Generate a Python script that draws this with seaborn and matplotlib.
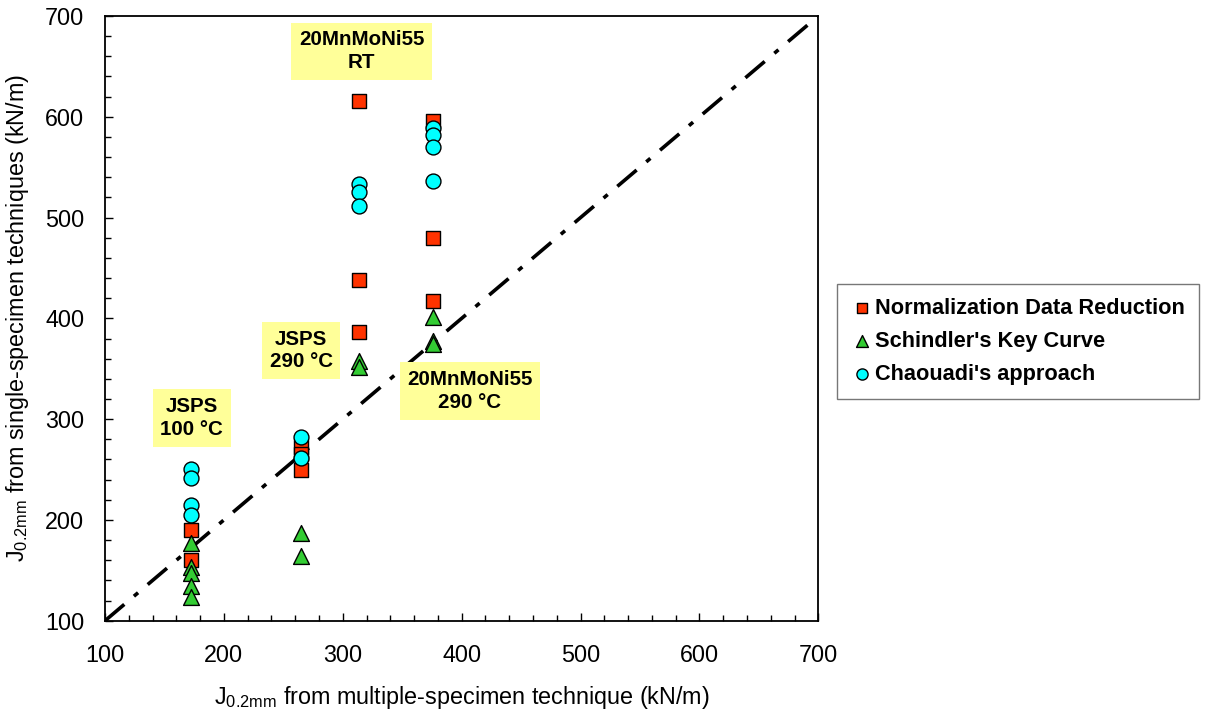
import numpy as np
import pandas as pd
import matplotlib
matplotlib.use("Agg")
import matplotlib.pyplot as plt
from matplotlib.ticker import MultipleLocator
import seaborn as sns

# J0.2mm from the multiple-specimen technique (x) for each material/temperature group
x_jsps100 = 172
x_jsps290 = 265
x_rt = 314
x_mn290 = 376

# J0.2mm from single-specimen techniques (kN/m)
ndr_jsps100 = [190, 160]
ndr_jsps290 = [272, 265, 250]
ndr_rt = [616, 438, 386]
ndr_mn290 = [596, 480, 417]

skc_jsps100 = [177, 153, 147, 134, 124]
skc_jsps290 = [187, 164]
skc_rt = [358, 352]
skc_mn290 = [401, 378, 375]

cha_jsps100 = [251, 242, 215, 205]
cha_jsps290 = [282, 261]
cha_rt = [533, 525, 511]
cha_mn290 = [589, 582, 570, 536]

series_names = ["Normalization Data Reduction", "Schindler's Key Curve", "Chaouadi's approach"]

group_labels = ["JSPS\n100 °C", "JSPS\n290 °C", "20MnMoNi55\nRT", "20MnMoNi55\n290 °C"]
label_pos = [(173, 301), (265, 368), (316, 665), (407, 328)]


def build(xs, ys_lists, name):
    rows = []
    for xv, ys in zip(xs, ys_lists):
        for yv in ys:
            rows.append({"x": xv, "y": yv, "series": name})
    return pd.DataFrame(rows)


xs = [x_jsps100, x_jsps290, x_rt, x_mn290]
df_ndr = build(xs, [ndr_jsps100, ndr_jsps290, ndr_rt, ndr_mn290], series_names[0])
df_skc = build(xs, [skc_jsps100, skc_jsps290, skc_rt, skc_mn290], series_names[1])
df_cha = build(xs, [cha_jsps100, cha_jsps290, cha_rt, cha_mn290], series_names[2])

sns.set_style("white")
plt.rcParams["font.family"] = ["Liberation Sans", "DejaVu Sans"]
plt.rcParams["mathtext.default"] = "regular"
plt.rcParams["text.color"] = "black"
plt.rcParams["axes.labelcolor"] = "black"
plt.rcParams["xtick.color"] = "black"
plt.rcParams["ytick.color"] = "black"

fig = plt.figure(figsize=(12.07, 7.13), dpi=100)
ax = fig.add_axes([0.087, 0.1294, 0.591, 0.8482])

# 1:1 reference line
diag = np.array([100, 700])
line, = ax.plot(diag, diag, color="black", lw=2.6, zorder=1)
line.set_dashes((7, 3.5, 1.5, 3.5))

sns.scatterplot(data=df_ndr, x="x", y="y", ax=ax, marker="s", s=105,
                color="#FF3300", edgecolor="black", linewidth=1.0,
                label=series_names[0], zorder=3)
sns.scatterplot(data=df_skc, x="x", y="y", ax=ax, marker="^", s=130,
                color="#33CC33", edgecolor="black", linewidth=1.0,
                label=series_names[1], zorder=4)
sns.scatterplot(data=df_cha, x="x", y="y", ax=ax, marker="o", s=115,
                color="#00FFFF", edgecolor="black", linewidth=1.0,
                label=series_names[2], zorder=5)

for txt, (tx, ty) in zip(group_labels, label_pos):
    ax.text(tx, ty, txt, ha="center", va="center", fontsize=14.8,
            fontweight="bold", linespacing=1.25, zorder=6,
            bbox=dict(boxstyle="square,pad=0.38", facecolor="#FFFF99",
                      edgecolor="none"))

ax.set_xlim(100, 700)
ax.set_ylim(100, 700)
ax.xaxis.set_major_locator(MultipleLocator(100))
ax.yaxis.set_major_locator(MultipleLocator(100))
ax.xaxis.set_minor_locator(MultipleLocator(20))
ax.yaxis.set_minor_locator(MultipleLocator(20))
ax.tick_params(which="both", direction="in", top=False, right=False,
               bottom=True, left=True, width=1.0, color="black")
ax.tick_params(which="major", length=6, labelsize=16.8)
ax.tick_params(axis="x", which="major", pad=17)
ax.tick_params(axis="y", which="major", pad=15)
ax.tick_params(which="minor", length=4)
for sp in ax.spines.values():
    sp.set_color("black")
    sp.set_linewidth(1.3)

ax.set_xlabel("J$_{0.2mm}$ from multiple-specimen technique (kN/m)",
              fontsize=16.8, labelpad=12)
ax.set_ylabel("J$_{0.2mm}$ from single-specimen techniques (kN/m)",
              fontsize=16.8, labelpad=10)

handles, labels = ax.get_legend_handles_labels()
ax.get_legend().remove()
leg = fig.legend(handles, labels, loc="center left",
                 bbox_to_anchor=(837 / 1207, 0.521),
                 prop={"weight": "bold", "size": 15.7},
                 frameon=True, fancybox=False, markerscale=0.75,
                 handletextpad=0.1, labelspacing=0.55, borderpad=0.65,
                 handlelength=1.0, borderaxespad=0)
leg.get_frame().set_edgecolor("#555555")
leg.get_frame().set_linewidth(1.0)

fig.savefig("out.png", dpi=100)
